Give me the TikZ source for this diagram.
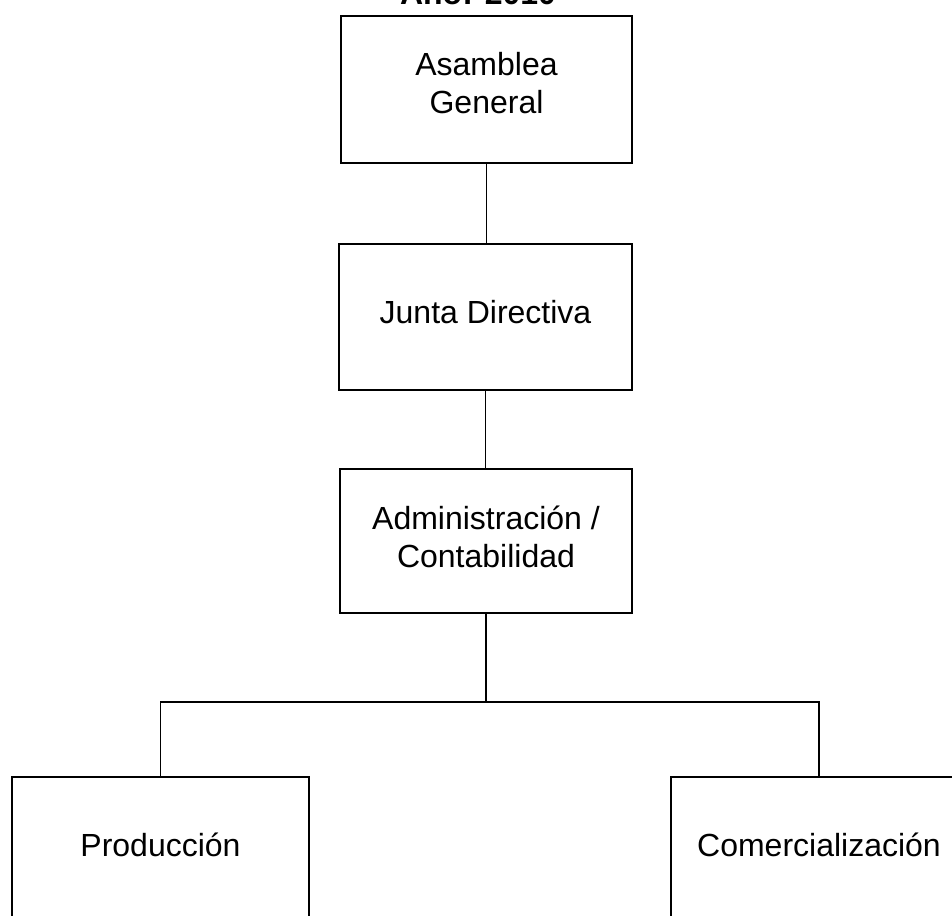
\documentclass[tikz,border=0pt]{standalone}
\usepackage{fontspec}
\setmainfont{Liberation Sans}
\begin{document}
\begin{tikzpicture}[x=1pt,y=1pt,
  orgbox/.style={draw, line width=1.8pt, align=center, inner sep=0pt,
    font=\fontsize{32}{38}\selectfont},
  conn/.style={line width=1.8pt}]
\useasboundingbox (0,0) rectangle (952,-915);
\clip (0,0) rectangle (952,-915);
\node[font=\bfseries\fontsize{32}{38}\selectfont, anchor=base] (title) at (478,-5) {Año: 2010};
\node[orgbox, minimum width=291pt, minimum height=147pt, text depth=13pt] (A) at (486.5,-89.5) {Asamblea\\General};
\node[orgbox, minimum width=293pt, minimum height=146pt, text depth=11pt] (J) at (485.5,-317) {Junta Directiva};
\node[orgbox, minimum width=292pt, minimum height=144pt, text depth=8pt] (D) at (486,-541) {Administración /\\Contabilidad};
\node[orgbox, minimum width=297pt, minimum height=148pt, text depth=12pt] (P) at (160.5,-851) {Producción};
\node[orgbox, minimum width=296pt, minimum height=148pt, text depth=12pt] (C) at (819,-851) {Comercialización};
\coordinate (bar) at (486,-702);
\draw[conn] (A.south) -- (A.south |- J.north);
\draw[conn] (J.south) -- (J.south |- D.north);
\draw[conn] (D.south) -- (bar);
\draw[conn] (P.north) |- (bar) -| (C.north);
\end{tikzpicture}
\end{document}
